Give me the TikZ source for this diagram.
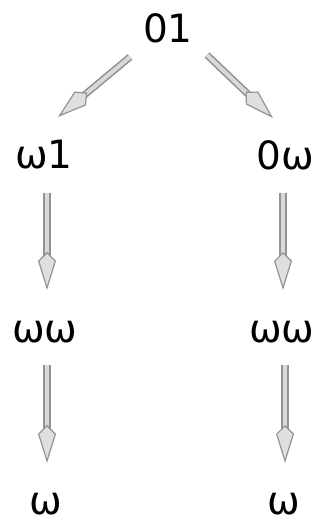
\documentclass[tikz,border=0pt]{standalone}
\usepackage{fontspec}
\setmainfont{DejaVu Sans}
\usetikzlibrary{arrows.meta,calc}
\tikzset{
  lbl/.style={font=\fontsize{39}{44}\selectfont, inner sep=0pt},
  grayarrow/.style={draw=gray!85, line width=1.6pt, double=gray!30, double distance=4pt,
    -{Kite[length=38pt, width=18pt, inset=9pt, color=gray!85, fill=gray!25, line width=1.2pt]}}
}
\begin{document}
\begin{tikzpicture}[x=1pt,y=1pt]
\useasboundingbox (0,0) rectangle (320,523);
\node[lbl] (n01) at (168,495) {01};
\node[lbl] (a) at (44,368) {ω1};
\node[lbl] (b) at (285,368) {0ω};
\node[lbl] (c) at (45,191) {ωω};
\node[lbl] (d) at (282,191) {ωω};
\node[lbl] (e) at (46,19) {ω};
\node[lbl] (f) at (284,19) {ω};
\draw[grayarrow] ($(n01)+(-38,-29)$) -- ($(a)+(14,38)$);
\draw[grayarrow] ($(n01)+(39,-27)$) -- ($(b)+(-12,37)$);
\draw[grayarrow] ($(a)+(3,-38)$) -- ($(c)+(2,42)$);
\draw[grayarrow] ($(b)+(-2,-38)$) -- ($(d)+(1,42)$);
\draw[grayarrow] ($(c)+(2,-33)$) -- ($(e)+(1,41)$);
\draw[grayarrow] ($(d)+(3,-33)$) -- ($(f)+(1,41)$);
\end{tikzpicture}
\end{document}
